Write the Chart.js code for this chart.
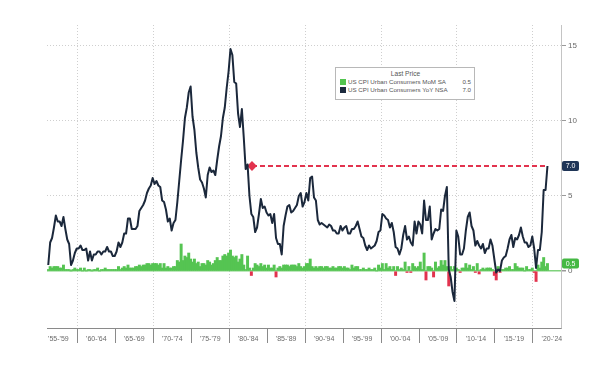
<!DOCTYPE html>
<html>
<head>
<meta charset="utf-8">
<script src="https://cdn.jsdelivr.net/npm/chart.js@4.4.1/dist/chart.umd.min.js"></script>
<style>
  html, body { margin: 0; padding: 0; background: #fff; }
  #wrap { position: relative; width: 600px; height: 378px; }
  #legend {
    position: absolute; left: 335px; top: 67px; width: 140px; height: 33px;
    box-sizing: border-box; border: 1px solid #b8b8b8; background: #fff;
    font-family: "Liberation Sans", Arial, sans-serif; font-size: 6.2px; color: #555;
    padding: 2px 3px 0 4px;
  }
  #legend .title { text-align: center; line-height: 8px; font-size: 6.6px; }
  #legend .row { display: flex; align-items: center; line-height: 8px; }
  #legend .sw { width: 6px; height: 6px; margin-right: 2px; flex: none; }
  #legend .name { flex: 1; white-space: nowrap; }
  #legend .val { margin-left: 3px; }
</style>
</head>
<body>
<div id="wrap">
  <canvas id="cpi" width="600" height="378"></canvas>
  <div id="legend">
    <div class="title">Last Price</div>
    <div class="row"><span class="sw" style="background:#52c44f"></span><span class="name">US CPI Urban Consumers MoM SA</span><span class="val" id="lg-mom"></span></div>
    <div class="row"><span class="sw" style="background:#1c2a3e"></span><span class="name">US CPI Urban Consumers YoY NSA</span><span class="val" id="lg-yoy"></span></div>
  </div>
</div>
<script>
/* ── US CPI YoY vs MoM, quarterly readings 1956 Q1 .. 2021 Q4 ── */

const START_YEAR = 1956;

// YoY NSA (%), one value per quarter (quarter-end month)
const yoy = [
  0.4, 1.9, 2.2, 2.9,   3.7, 3.3, 3.3, 3.0,   3.6, 2.8, 2.1, 1.8,   0.4, 0.7, 1.2, 1.5,   // 1956-59
  1.5, 1.7, 1.4, 1.4,   1.5, 0.7, 1.3, 0.7,   1.1, 1.1, 1.3, 1.3,   1.1, 1.3, 1.3, 1.6,   // 1960-63
  1.3, 1.3, 1.0, 1.0,   1.3, 1.9, 1.6, 1.9,   2.5, 2.5, 3.5, 3.5,   2.8, 2.8, 2.8, 3.0,   // 1964-67
  4.0, 4.2, 4.4, 4.7,   5.2, 5.5, 5.7, 6.2,   5.8, 6.0, 5.7, 5.6,   4.7, 4.6, 4.1, 3.3,   // 1968-71
  3.5, 2.7, 3.2, 3.4,   4.6, 6.0, 7.4, 8.7,   10.2, 10.9, 11.9, 12.3, 10.3, 9.4, 7.9, 6.9, // 1972-75
  6.1, 5.9, 5.5, 4.9,   6.4, 6.9, 6.6, 6.7,   6.4, 7.4, 8.3, 9.0,   10.2, 10.9, 12.2, 13.3, // 1976-79
  14.8, 14.4, 12.6, 12.5, 10.5, 9.6, 10.8, 8.9, 6.8, 7.1, 5.0, 3.8,   3.6, 2.6, 2.9, 3.8,   // 1980-83
  4.8, 4.2, 4.3, 3.9,   3.7, 3.8, 3.2, 3.8,   2.2, 1.8, 1.8, 1.1,   3.0, 3.7, 4.3, 4.4,   // 1984-87
  3.9, 4.0, 4.2, 4.4,   5.0, 5.2, 4.3, 4.6,   5.2, 4.7, 6.2, 6.3,   4.9, 4.7, 3.4, 3.1,   // 1988-91
  3.2, 3.1, 3.0, 2.9,   3.1, 3.0, 2.7, 2.7,   2.5, 2.5, 3.0, 2.7,   2.9, 3.0, 2.5, 2.5,   // 1992-95
  2.8, 2.8, 3.0, 3.3,   2.8, 2.3, 2.2, 1.7,   1.4, 1.7, 1.5, 1.6,   1.7, 2.0, 2.6, 2.7,   // 1996-99
  3.8, 3.7, 3.5, 3.4,   2.9, 3.2, 2.6, 1.6,   1.5, 1.1, 1.5, 2.4,   3.0, 2.1, 2.3, 1.9,   // 2000-03
  1.7, 3.3, 2.5, 3.3,   3.1, 2.5, 4.7, 3.4,   3.4, 4.3, 2.1, 2.5,   2.8, 2.7, 2.8, 4.1,   // 2004-07
  4.0, 5.0, 5.6, 0.1,   -0.4, -1.4, -2.0, 2.7, 2.3, 1.1, 1.1, 1.5,   2.7, 3.6, 3.9, 3.0,   // 2008-11
  2.7, 1.7, 2.0, 1.7,   1.5, 1.8, 1.2, 1.5,   1.5, 2.1, 1.7, 0.8,   -0.1, 0.1, 0.0, 0.7,  // 2012-15
  0.9, 1.0, 1.5, 2.1,   2.4, 1.6, 2.2, 2.1,   2.4, 2.9, 2.3, 1.9,   1.9, 1.6, 1.7, 2.3,   // 2016-19
  1.5, 0.2, 1.4, 1.4,   2.6, 5.4, 5.4, 7.0                                                // 2020-21
];

// MoM SA (%), one representative reading per quarter
const mom = [
  0.1, 0.3, 0.2, 0.3,   0.3, 0.3, 0.2, 0.2,   0.4, 0.1, 0.1, 0.1,   0.0, 0.1, 0.2, 0.1,   // 1956-59
  0.1, 0.2, 0.0, 0.2,   0.0, 0.1, 0.1, 0.0,   0.1, 0.1, 0.2, 0.0,   0.1, 0.1, 0.2, 0.1,   // 1960-63
  0.1, 0.1, 0.1, 0.1,   0.1, 0.3, 0.1, 0.2,   0.3, 0.2, 0.4, 0.2,   0.2, 0.2, 0.3, 0.3,   // 1964-67
  0.4, 0.3, 0.4, 0.4,   0.5, 0.5, 0.4, 0.5,   0.5, 0.5, 0.4, 0.5,   0.2, 0.5, 0.2, 0.3,   // 1968-71
  0.2, 0.2, 0.3, 0.3,   0.7, 0.6, 1.8, 0.7,   1.0, 0.9, 1.2, 0.8,   0.6, 0.8, 0.5, 0.6,   // 1972-75
  0.3, 0.5, 0.5, 0.4,   0.7, 0.6, 0.4, 0.5,   0.7, 0.9, 0.7, 0.7,   1.0, 1.1, 1.0, 1.2,   // 1976-79
  1.4, 1.0, 0.9, 1.0,   0.6, 0.8, 1.1, 0.4,   0.1, 1.0, 0.2, -0.3,  0.2, 0.5, 0.4, 0.3,   // 1980-83
  0.5, 0.3, 0.4, 0.2,   0.4, 0.2, 0.2, 0.4,   -0.4, 0.2, 0.3, 0.2,  0.4, 0.4, 0.4, 0.3,   // 1984-87
  0.4, 0.4, 0.4, 0.3,   0.5, 0.3, 0.2, 0.3,   0.5, 0.5, 0.8, 0.3,   0.2, 0.3, 0.2, 0.3,   // 1988-91
  0.3, 0.2, 0.3, 0.3,   0.2, 0.2, 0.3, 0.2,   0.2, 0.3, 0.3, 0.2,   0.3, 0.2, 0.2, 0.1,   // 1992-95
  0.4, 0.2, 0.3, 0.3,   0.1, 0.1, 0.2, 0.1,   0.1, 0.2, 0.1, 0.1,   0.2, 0.0, 0.4, 0.2,   // 1996-99
  0.5, 0.1, 0.5, 0.2,   0.3, 0.1, 0.3, -0.3,  0.3, 0.1, 0.2, 0.1,   0.6, -0.1, 0.3, -0.1, // 2000-03
  0.5, 0.3, 0.2, 0.3,   0.6, 0.1, 1.2, -0.6,  0.3, 0.3, 0.2, -0.4,  0.6, 0.2, 0.3, 0.7,   // 2004-07
  0.4, 0.7, 0.3, -1.0,  0.3, 0.1, 0.3, 0.2,   0.1, -0.1, 0.2, 0.2,  0.5, 0.2, 0.4, 0.1,   // 2008-11
  0.3, -0.1, 0.5, -0.2, 0.1, 0.2, 0.1, 0.2,   0.2, 0.2, 0.1, -0.3,  -0.6, 0.3, -0.1, 0.1, // 2012-15
  0.1, 0.2, 0.2, 0.3,   0.1, 0.1, 0.5, 0.3,   0.2, 0.2, 0.2, 0.0,   0.3, 0.1, 0.1, 0.2,   // 2016-19
  -0.1, -0.7, 0.4, 0.2, 0.6, 0.9, 0.3, 0.5                                                // 2020-21
];

// 5-year bins along the bottom axis
const binStarts = [1955, 1960, 1965, 1970, 1975, 1980, 1985, 1990, 1995, 2000, 2005, 2010, 2015, 2020];
const binLabels = ["'55-'59", "'60-'64", "'65-'69", "'70-'74", "'75-'79", "'80-'84", "'85-'89",
                   "'90-'94", "'95-'99", "'00-'04", "'05-'09", "'10-'14", "'15-'19", "'20-'24"];
const yTicks = [0, 5, 10, 15];

// "last price" reference line
const refLevel = 7.0;
const refFrom = 1983.0;

const GREEN = '#55c452';
const RED = '#e2334e';
const NAVY = '#1b283b';

// ── Helpers ──
function qx(i) {
    // quarter-end month of quarter i, as a decimal year
    return START_YEAR + (i * 3 + 2) / 12;
}

const yoyPts = yoy.map((v, i) => ({ x: qx(i), y: v }));
const momPts = mom.map((v, i) => ({ x: qx(i), y: v }));
const lastX = qx(yoy.length - 1);

document.getElementById('lg-mom').textContent = mom[mom.length - 1].toFixed(1);
document.getElementById('lg-yoy').textContent = yoy[yoy.length - 1].toFixed(1);

// ── Right-edge value tags ──
const valueTags = {
    id: 'valueTags',
    afterDraw(chart) {
        const { ctx, chartArea } = chart;
        const y = chart.scales.y;
        const tags = [
            { v: mom[mom.length - 1], bg: '#45b844' },
            { v: yoy[yoy.length - 1], bg: '#1f3557' },
        ];
        ctx.save();
        ctx.font = '7px "Liberation Sans", Arial, sans-serif';
        ctx.textAlign = 'center';
        ctx.textBaseline = 'middle';
        tags.forEach(t => {
            const py = y.getPixelForValue(t.v);
            const x0 = chartArea.right + 1;
            ctx.fillStyle = t.bg;
            ctx.beginPath();
            ctx.roundRect(x0, py - 5, 17, 10, 2);
            ctx.fill();
            ctx.fillStyle = '#fff';
            ctx.fillText(t.v.toFixed(1), x0 + 8.5, py + 0.5);
        });
        ctx.restore();
    }
};

// ── Chart ──
new Chart(document.getElementById('cpi').getContext('2d'), {
    type: 'bar',
    data: {
        datasets: [
            {
                type: 'line',
                label: 'US CPI Urban Consumers YoY NSA',
                data: yoyPts,
                borderColor: NAVY,
                borderWidth: 2,
                pointRadius: 0,
                tension: 0,
                borderJoinStyle: 'round',
                order: 0,
            },
            {
                type: 'line',
                label: 'Last',
                data: [{ x: refFrom, y: refLevel }, { x: lastX, y: refLevel }],
                borderColor: RED,
                borderWidth: 2,
                borderDash: [5, 3],
                pointRadius: [3.5, 0],
                pointStyle: 'rectRot',
                pointBackgroundColor: RED,
                pointBorderColor: RED,
                order: 1,
            },
            {
                type: 'bar',
                label: 'US CPI Urban Consumers MoM SA',
                data: momPts,
                backgroundColor: c => (c.parsed && c.parsed.y < 0) ? RED : GREEN,
                barThickness: 2.3,
                grouped: false,
                order: 2,
            },
        ],
    },
    options: {
        responsive: false,
        animation: false,
        layout: { padding: { left: 47, top: 25, right: 0, bottom: 0 } },
        plugins: { legend: { display: false }, tooltip: { enabled: false } },
        scales: {
            x: {
                type: 'linear',
                min: 1956.0,
                max: 2023.7,
                offset: false,
                afterBuildTicks: scale => {
                    const t = [];
                    binStarts.forEach(s => {
                        if (s > scale.min) t.push({ value: s });
                        t.push({ value: s + 2.5 });
                    });
                    scale.ticks = t;
                },
                afterFit: scale => { scale.height = 50; },
                ticks: {
                    autoSkip: false,
                    maxRotation: 0,
                    padding: -8,
                    color: '#6a6a6a',
                    font: { size: 7, family: '"Liberation Sans", Arial, sans-serif' },
                    callback: v => {
                        const k = (v - binStarts[0] - 2.5) / 5;
                        return Number.isInteger(k) ? binLabels[k] : '';
                    },
                },
                grid: {
                    offset: false,
                    color: c => (c.tick && c.tick.value % 10 === 0) ? '#cfcfcf' : 'rgba(0,0,0,0)',
                    tickColor: c => (c.tick && c.tick.value % 5 === 0) ? '#8a8a8a' : 'rgba(0,0,0,0)',
                    tickLength: 15,
                    tickBorderDash: [],
                    lineWidth: 1,
                },
                border: { display: true, color: '#8a8a8a', width: 1, dash: [1, 2] },
            },
            y: {
                position: 'right',
                min: -3.8,
                max: 16.4,
                afterBuildTicks: scale => { scale.ticks = yTicks.map(v => ({ value: v })); },
                afterFit: scale => { scale.width = 39; },
                ticks: {
                    padding: 2,
                    color: '#6a6a6a',
                    font: { size: 8, family: '"Liberation Sans", Arial, sans-serif' },
                },
                grid: {
                    color: c => (c.tick && c.tick.value === 0) ? '#7fd27c' : '#cfcfcf',
                    lineWidth: c => (c.tick && c.tick.value === 0) ? 1.5 : 1,
                    tickColor: '#9a9a9a',
                    tickLength: 5,
                    tickBorderDash: [],
                },
                border: {
                    display: true, color: '#c4c4c4', width: 1,
                    dash: c => (c.tick && c.tick.value === 0) ? [] : [1, 2],
                },
            },
        },
    },
    plugins: [valueTags],
});
</script>
</body>
</html>
